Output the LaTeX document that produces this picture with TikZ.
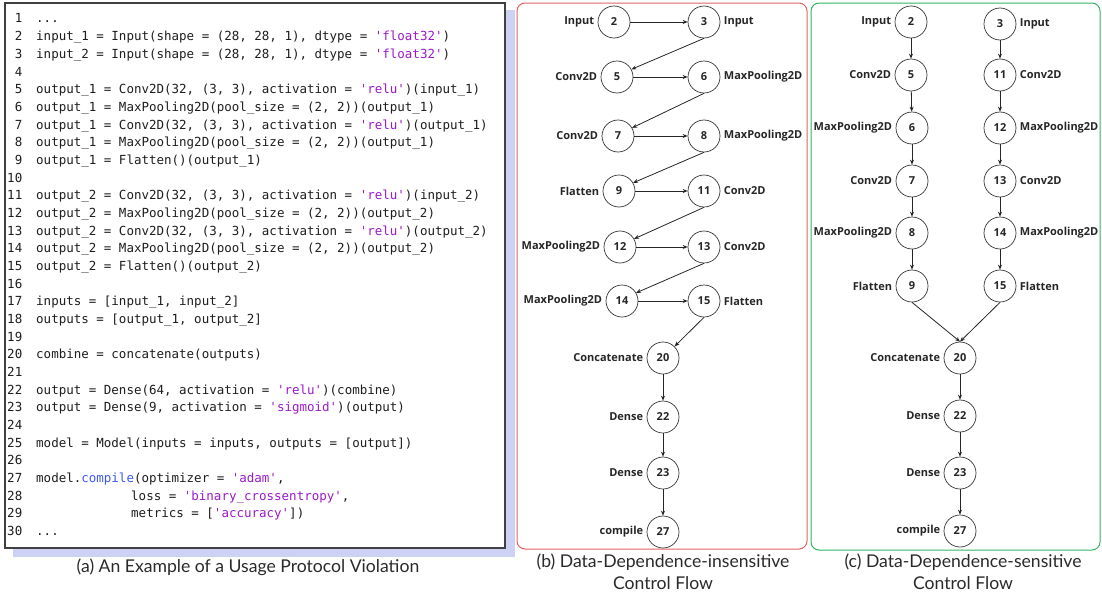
\documentclass[tikz,border=0pt]{standalone}
\usepackage{fontspec}
\setmainfont{Open Sans}
\newfontfamily\codefont{DejaVu Sans Mono}
\newfontfamily\capfont{Lato}
\usetikzlibrary{arrows.meta}
\definecolor{strc}{HTML}{9C1ACB}
\definecolor{fnc}{HTML}{3F57F0}
\definecolor{codec}{HTML}{1E1E1E}
\definecolor{shadowc}{HTML}{CDD1F3}
\definecolor{redc}{HTML}{E06262}
\definecolor{greenc}{HTML}{2FB463}
\definecolor{capc}{HTML}{2A2A2A}
\newcommand\str[1]{\textcolor{strc}{'#1'}}
\newcommand\codeln[2]{%
  \node[numline] (N#1) at (22.5,{23+(#1-1)*17.67}) {#1};%
  \node[codeline] (L#1) at (36,{23+(#1-1)*17.67}) {#2};}
\newcommand\numln[1]{\node[numline] (N#1) at (22.5,{23+(#1-1)*17.67}) {#1};}
\begin{document}
\begin{tikzpicture}[x=1pt,y=-1pt,
  codeline/.style={anchor=base west,inner sep=0pt,text=codec,font=\codefont\fontsize{12.5}{12.5}\selectfont},
  numline/.style={anchor=base east,inner sep=0pt,text=codec,font=\codefont\fontsize{12.5}{12.5}\selectfont},
  cnode/.style={circle,draw=black!80,line width=0.7pt,minimum size=32pt,inner sep=0pt,font=\bfseries\fontsize{11}{11}\selectfont,text=black!85,label distance=1pt},
  lab/.style={font=\bfseries\fontsize{11}{11}\selectfont,text=black!85},
  arr/.style={-{Stealth[length=5pt,width=4pt]},line width=0.8pt,draw=black!85},
  captext/.style={font=\capfont\fontsize{17.6}{17.6}\selectfont,text=capc,inner sep=0pt},
]
\useasboundingbox (0,0) rectangle (1102,597);
% ---- panel (a)
\fill[shadowc] (13,10) rectangle (515,557);
\draw[fill=white,draw=black!75,line width=1.1pt] (5,3) rectangle (505,548);
\codeln{1}{...}
\codeln{2}{input\_1 = Input(shape = (28, 28, 1), dtype = \str{float32})}
\codeln{3}{input\_2 = Input(shape = (28, 28, 1), dtype = \str{float32})}
\numln{4}
\codeln{5}{output\_1 = Conv2D(32, (3, 3), activation = \str{relu})(input\_1)}
\codeln{6}{output\_1 = MaxPooling2D(pool\_size = (2, 2))(output\_1)}
\codeln{7}{output\_1 = Conv2D(32, (3, 3), activation = \str{relu})(output\_1)}
\codeln{8}{output\_1 = MaxPooling2D(pool\_size = (2, 2))(output\_1)}
\codeln{9}{output\_1 = Flatten()(output\_1)}
\numln{10}
\codeln{11}{output\_2 = Conv2D(32, (3, 3), activation = \str{relu})(input\_2)}
\codeln{12}{output\_2 = MaxPooling2D(pool\_size = (2, 2))(output\_2)}
\codeln{13}{output\_2 = Conv2D(32, (3, 3), activation = \str{relu})(output\_2)}
\codeln{14}{output\_2 = MaxPooling2D(pool\_size = (2, 2))(output\_2)}
\codeln{15}{output\_2 = Flatten()(output\_2)}
\numln{16}
\codeln{17}{inputs = [input\_1, input\_2]}
\codeln{18}{outputs = [output\_1, output\_2]}
\numln{19}
\codeln{20}{combine = concatenate(outputs)}
\numln{21}
\codeln{22}{output = Dense(64, activation = \str{relu})(combine)}
\codeln{23}{output = Dense(9, activation = \str{sigmoid})(output)}
\numln{24}
\codeln{25}{model = Model(inputs = inputs, outputs = [output])}
\numln{26}
\codeln{27}{model.\textcolor{fnc}{compile}(optimizer = \str{adam},}
\numln{28}
\node[codeline] (L28) at (131,{23+27*17.67}) {loss = \str{binary\_crossentropy},};
\numln{29}
\node[codeline] (L29) at (131,{23+28*17.67}) {metrics = [\str{accuracy}])};
\codeln{30}{...}
\node[captext] (capa) at (248,567) {(a) An Example of a Usage Protocol Violation};
% ---- panel (b)
\draw[redc,line width=1pt,rounded corners=8pt] (517,3) rectangle (807,549);
\node[cnode,label={[lab]left:Input}] (b2) at (614,22) {2};
\node[cnode,label={[lab]right:Input}] (b3) at (704,22) {3};
\node[cnode,label={[lab]left:Conv2D}] (b5) at (617,77) {5};
\node[cnode,label={[lab]right:MaxPooling2D}] (b6) at (704,77) {6};
\node[cnode,label={[lab]left:Conv2D}] (b7) at (618,136) {7};
\node[cnode,label={[lab]right:MaxPooling2D}] (b8) at (704,136) {8};
\node[cnode,label={[lab]left:Flatten}] (b9) at (619,191) {9};
\node[cnode,label={[lab]right:Conv2D}] (b11) at (704,191) {11};
\node[cnode,label={[lab]left:MaxPooling2D}] (b12) at (620,247) {12};
\node[cnode,label={[lab]right:Conv2D}] (b13) at (704,247) {13};
\node[cnode,label={[lab]left:MaxPooling2D}] (b14) at (622,301) {14};
\node[cnode,label={[lab]right:Flatten}] (b15) at (704,301) {15};
\node[cnode,label={[lab]left:Concatenate}] (b20) at (663,358) {20};
\node[cnode,label={[lab]left:Dense}] (b22) at (663,417) {22};
\node[cnode,label={[lab]left:Dense}] (b23) at (663,473) {23};
\node[cnode,label={[lab]left:compile}] (b27) at (663,532) {27};
\draw[arr] (b2) -- (b3);
\draw[arr] (b3.south) -- (b5.28);
\draw[arr] (b5) -- (b6);
\draw[arr] (b6.south) -- (b7.30);
\draw[arr] (b7) -- (b8);
\draw[arr] (b8.south) -- (b9.30);
\draw[arr] (b9) -- (b11);
\draw[arr] (b11.south) -- (b12.30);
\draw[arr] (b12) -- (b13);
\draw[arr] (b13.south) -- (b14.30);
\draw[arr] (b14) -- (b15);
\draw[arr] (b15.south) -- (b20.45);
\draw[arr] (b20) -- (b22);
\draw[arr] (b22) -- (b23);
\draw[arr] (b23) -- (b27);
\node[captext,align=center] (capb) at (663,572) {(b) Data-Dependence-insensitive\\[4pt]Control Flow};
% ---- panel (c)
\draw[greenc,line width=1pt,rounded corners=8pt] (811,3) rectangle (1100,550);
\node[cnode,label={[lab]left:Input}] (c2) at (911,22) {2};
\node[cnode,label={[lab]right:Input}] (c3) at (1000,24) {3};
\node[cnode,label={[lab]left:Conv2D}] (c5) at (911,75) {5};
\node[cnode,label={[lab]right:Conv2D}] (c11) at (1000,75) {11};
\node[cnode,label={[lab]left:MaxPooling2D}] (c6) at (912,128) {6};
\node[cnode,label={[lab]right:MaxPooling2D}] (c12) at (1000,128) {12};
\node[cnode,label={[lab]left:Conv2D}] (c7) at (912,181) {7};
\node[cnode,label={[lab]right:Conv2D}] (c13) at (1000,181) {13};
\node[cnode,label={[lab]left:MaxPooling2D}] (c8) at (912,233) {8};
\node[cnode,label={[lab]right:MaxPooling2D}] (c14) at (1000,233) {14};
\node[cnode,label={[lab]left:Flatten}] (c9) at (912,286) {9};
\node[cnode,label={[lab]right:Flatten}] (c15) at (1000,286) {15};
\node[cnode,label={[lab]left:Concatenate}] (c20) at (960,358) {20};
\node[cnode,label={[lab]left:Dense}] (c22) at (960,416) {22};
\node[cnode,label={[lab]left:Dense}] (c23) at (960,473) {23};
\node[cnode,label={[lab]left:compile}] (c27) at (960,531) {27};
\draw[arr] (c2) -- (c5);
\draw[arr] (c5) -- (c6);
\draw[arr] (c6) -- (c7);
\draw[arr] (c7) -- (c8);
\draw[arr] (c8) -- (c9);
\draw[arr] (c3) -- (c11);
\draw[arr] (c11) -- (c12);
\draw[arr] (c12) -- (c13);
\draw[arr] (c13) -- (c14);
\draw[arr] (c14) -- (c15);
\draw[arr] (c9.south) -- (c20.north);
\draw[arr] (c15.south) -- (c20.north);
\draw[arr] (c20) -- (c22);
\draw[arr] (c22) -- (c23);
\draw[arr] (c23) -- (c27);
\node[captext,align=center] (capc) at (963,572) {(c) Data-Dependence-sensitive\\[4pt]Control Flow};
\end{tikzpicture}
\end{document}
